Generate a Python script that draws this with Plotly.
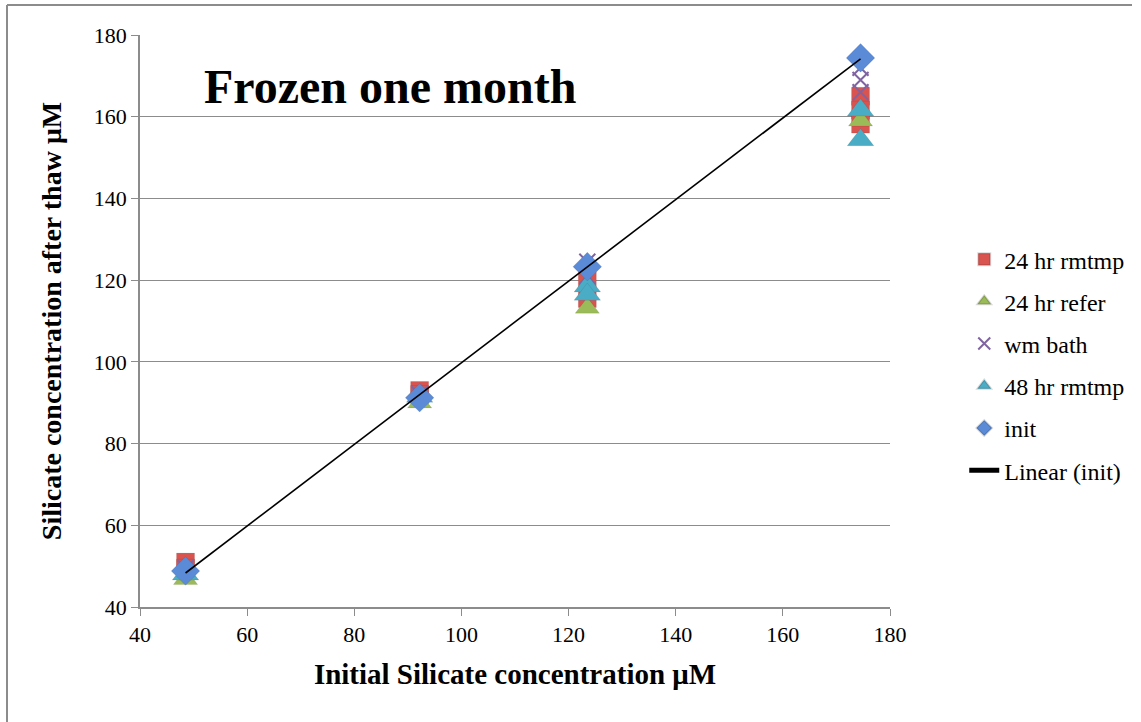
import numpy as np
import plotly.graph_objects as go

# Initial concentrations (x) for each replicate point
rmtmp24_x = [48.5, 48.5, 92.2, 92.2, 123.5, 123.5, 174.5, 174.5, 174.5]
rmtmp24_y = [51.0, 49.5, 93.0, 92.0, 119.8, 115.5, 165.0, 161.6, 158.2]

refer24_x = [48.5, 92.2, 123.5, 174.5]
refer24_y = [46.8, 90.0, 113.2, 159.0]

wmbath_x = [48.5, 92.2, 123.5, 123.5, 174.5, 174.5, 174.5]
wmbath_y = [49.5, 92.0, 124.5, 121.0, 172.0, 169.0, 166.0]

rmtmp48_x = [48.5, 92.2, 123.5, 123.5, 174.5, 174.5]
rmtmp48_y = [48.0, 91.5, 118.5, 116.5, 161.6, 154.3]

init_x = [48.5, 92.2, 123.5, 174.5]
init_y = [48.8, 91.2, 123.3, 174.4]

x_ticks = [40, 60, 80, 100, 120, 140, 160, 180]
y_ticks = [40, 60, 80, 100, 120, 140, 160, 180]

FONT = "Liberation Serif"

fig = go.Figure()

series = [
    ("24 hr rmtmp", rmtmp24_x, rmtmp24_y, "square", "#D9534F", 18, None),
    ("24 hr refer", refer24_x, refer24_y, "triangle-up", "#9BBB59", 21, None),
    ("wm bath", wmbath_x, wmbath_y, "x-thin", "#8064A2", 16, 2),
    ("48 hr rmtmp", rmtmp48_x, rmtmp48_y, "triangle-up", "#4BACC6", 23, None),
    ("init", init_x, init_y, "diamond", "#5B8BD6", 22, None),
]
for i, (name, xs, ys, sym, col, sz, lw) in enumerate(series):
    marker = dict(symbol=sym, color=col, size=sz)
    if lw:
        marker["line"] = dict(color=col, width=lw)
    else:
        marker["line"] = dict(color="rgba(0,0,0,0.15)", width=0.5)
    fig.add_trace(go.Scatter(x=xs, y=ys, mode="markers", name=name, marker=marker,
                             legendgroup=f"g{i}"))

# Linear trendline of init (drawn over the markers)
m, b = np.polyfit(init_x, init_y, 1)
lx = [min(init_x), max(init_x)]
ly = [m * v + b for v in lx]
fig.add_trace(go.Scatter(x=lx, y=ly, mode="lines", name="Linear (init)",
                         line=dict(color="black", width=1.6), legendgroup="g5"))

fig.update_layout(
    width=1141, height=722,
    margin=dict(l=140, r=251, t=35, b=115),
    paper_bgcolor="white", plot_bgcolor="white",
    font=dict(family=FONT, size=22, color="black"),
    showlegend=True,
    legend=dict(x=1.099, y=0.423, xanchor="left", yanchor="middle",
                font=dict(family=FONT, size=24), traceorder="grouped",
                tracegroupgap=8, bgcolor="rgba(0,0,0,0)", itemsizing="constant"),
    xaxis=dict(range=[40, 180], tickvals=x_ticks, ticks="outside", ticklen=7,
               tickcolor="#8C8C8C", showline=True, linecolor="#8C8C8C", linewidth=1.5,
               showgrid=False, zeroline=False, tickfont=dict(family=FONT, size=22),
               title=dict(text="<b>Initial Silicate concentration μM</b>",
                          font=dict(family=FONT, size=29), standoff=18)),
    yaxis=dict(range=[40, 180], tickvals=y_ticks, ticks="outside", ticklen=7,
               tickcolor="#8C8C8C", showline=True, linecolor="#8C8C8C", linewidth=1.5,
               showgrid=True, gridcolor="#8C8C8C", gridwidth=1, zeroline=False,
               tickfont=dict(family=FONT, size=22),
               title=dict(text="<b>Silicate concentration after thaw μM</b>",
                          font=dict(family=FONT, size=28), standoff=24)),
    annotations=[dict(text="<b>Frozen one month</b>", x=51.6, y=167.3, xref="x", yref="y",
                      xanchor="left", yanchor="middle", showarrow=False,
                      font=dict(family=FONT, size=48, color="black"))],
    shapes=[
        dict(type="line", xref="paper", yref="paper", x0=(7 - 140) / 750, x1=(1132 - 140) / 750,
             y0=(607 - 5) / 572, y1=(607 - 5) / 572, line=dict(color="#8C8C8C", width=2)),
        dict(type="line", xref="paper", yref="paper", x0=(7 - 140) / 750, x1=(7 - 140) / 750,
             y0=(607 - 5) / 572, y1=(607 - 740) / 572, line=dict(color="#8C8C8C", width=2)),
    ],
)

fig.write_html("out.html")
